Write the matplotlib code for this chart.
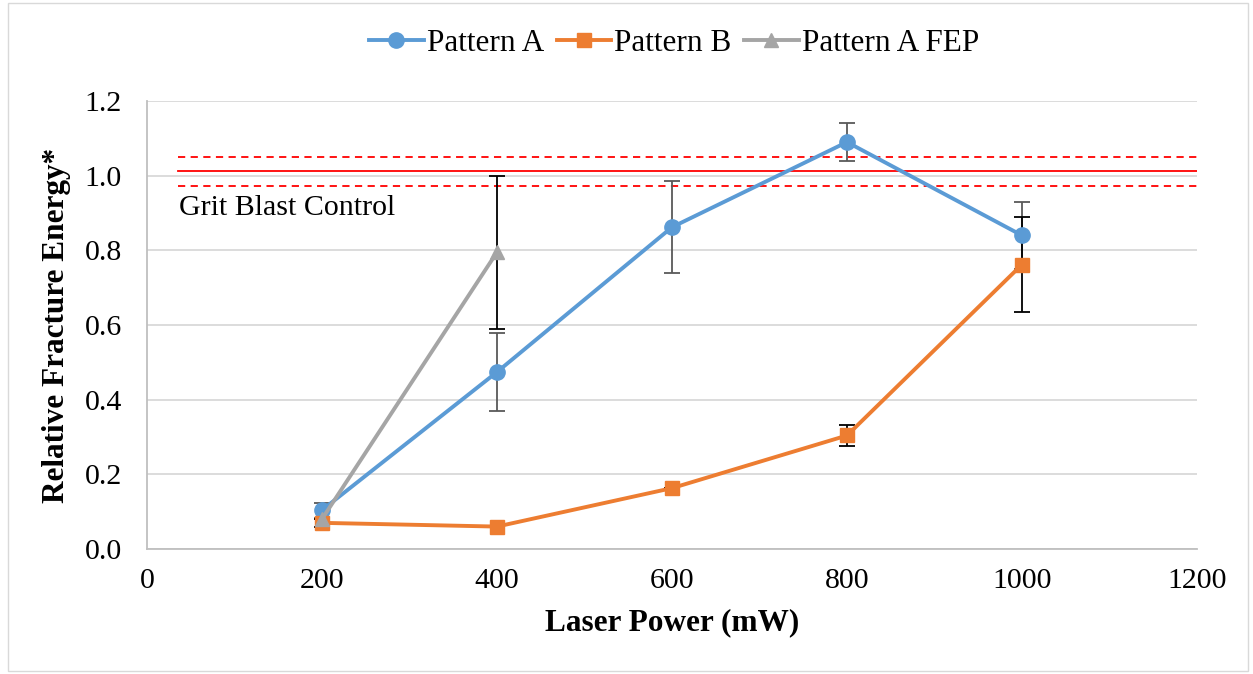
import matplotlib
matplotlib.use("Agg")
import matplotlib.pyplot as plt
from matplotlib.patches import Rectangle

power = [200, 400, 600, 800, 1000]
pattern_a = [0.104, 0.474, 0.862, 1.09, 0.840]
pattern_a_err = [0.02, 0.105, 0.123, 0.05, 0.09]
pattern_b = [0.070, 0.060, 0.163, 0.304, 0.762]
pattern_b_err = [0.01, 0.0, 0.0, 0.028, 0.128]
fep_power = [200, 400]
fep = [0.080, 0.795]
fep_err = [0.0, 0.205]
control_mean = 1.012
control_band = [0.972, 1.050]
control_x = [35, 1200]

plt.rcParams['font.family'] = ['Liberation Serif', 'DejaVu Serif']

fig = plt.figure(figsize=(12.53, 6.74), dpi=100)
ax = fig.add_axes([0.1173, 0.1855, 0.838, 0.6646])

ax.set_xlim(0, 1200)
ax.set_ylim(0, 1.2)
ax.set_yticks([0, 0.2, 0.4, 0.6, 0.8, 1.0, 1.2])
ax.set_yticklabels(['0.0', '0.2', '0.4', '0.6', '0.8', '1.0', '1.2'])
ax.set_xticks([0, 200, 400, 600, 800, 1000, 1200])
ax.tick_params(axis='y', length=0, labelsize=21.5, pad=18)
ax.tick_params(axis='x', length=0, labelsize=21.5, pad=14)
ax.grid(axis='y', color='#d9d9d9', linewidth=1.3)
ax.set_axisbelow(True)
for s in ['top', 'right']:
    ax.spines[s].set_visible(False)
for s in ['left', 'bottom']:
    ax.spines[s].set_color('#bfbfbf')
    ax.spines[s].set_linewidth(1.3)

# control lines
ax.plot(control_x, [control_mean]*2, color='#ff0000', lw=1.3, zorder=2)
for v in control_band:
    ax.plot(control_x, [v]*2, color='#ff0000', lw=1.3, ls=(0, (4, 3)), zorder=2)
ax.text(37, 0.913, 'Grit Blast Control', fontsize=21.5, ha='left', va='center')

ax.plot(power, pattern_a, color='#5b9bd5', lw=2.8, marker='o', ms=11, label='Pattern A', zorder=4)
ax.errorbar(power, pattern_a, yerr=pattern_a_err, fmt='none', ecolor='#595959', elinewidth=1.3, capsize=6, capthick=1.3, zorder=3)
ax.plot(power, pattern_b, color='#ed7d31', lw=2.8, marker='s', ms=10, label='Pattern B', zorder=5)
ax.errorbar(power, pattern_b, yerr=pattern_b_err, fmt='none', ecolor='black', elinewidth=1.3, capsize=6, capthick=1.3, zorder=3)
ax.plot(fep_power, fep, color='#a5a5a5', lw=2.8, marker='^', ms=10, label='Pattern A FEP', zorder=5)
ax.errorbar(fep_power, fep, yerr=fep_err, fmt='none', ecolor='black', elinewidth=1.3, capsize=6, capthick=1.3, zorder=3)

ax.set_xlabel('Laser Power (mW)', fontsize=22.5, fontweight='bold', labelpad=10)
ax.set_ylabel('Relative Fracture Energy*', fontsize=22.5, fontweight='bold', labelpad=10)

fig.legend(loc='upper center', bbox_to_anchor=(0.538, 0.999), ncol=3, frameon=False,
           fontsize=22.5, handlelength=1.75, columnspacing=0.4, handletextpad=0.1)

fig.patches.append(Rectangle((0.006, 0.005), 0.99, 0.99, transform=fig.transFigure,
                             fill=False, edgecolor='#d9d9d9', lw=1))

fig.savefig('out.png', dpi=100)
